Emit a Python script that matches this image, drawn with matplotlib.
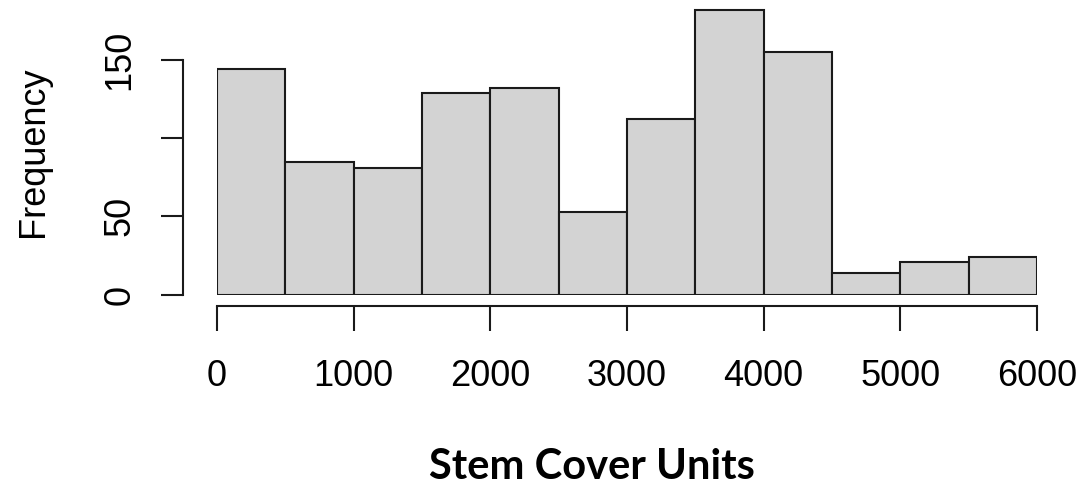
import matplotlib
matplotlib.use("Agg")
import matplotlib.pyplot as plt
import numpy as np

# histogram counts for stem cover, bins of 500 units
bin_edges = [0, 500, 1000, 1500, 2000, 2500, 3000, 3500, 4000, 4500, 5000, 5500, 6000]
counts = [144, 85, 81, 129, 132, 53, 112, 182, 155, 14, 21, 24]
x_ticks = [0, 1000, 2000, 3000, 4000, 5000, 6000]
y_ticks = [0, 50, 100, 150]
y_tick_labels = ["0", "50", "", "150"]

plt.rcParams["font.family"] = ["Liberation Sans", "DejaVu Sans"]

W, H = 1088, 488
fig = plt.figure(figsize=(W / 100, H / 100), dpi=100)
ymax = 186
px_per_unit = 1.566
ax = fig.add_axes([217 / W, (H - 294.7) / H, 820 / W, ymax * px_per_unit / H])

edges = np.array(bin_edges)
ax.bar(edges[:-1], counts, width=np.diff(edges), align="edge",
       color="#d3d3d3", edgecolor="#1a1a1a", linewidth=1.5)

ax.set_xlim(0, 6000)
ax.set_ylim(0, ymax)

for s in ["top", "right"]:
    ax.spines[s].set_visible(False)
ax.spines["bottom"].set_position(("outward", 8))
ax.spines["left"].set_position(("outward", 24.5))
ax.spines["bottom"].set_bounds(0, 6000)
ax.spines["left"].set_bounds(0, 150)
for s in ["bottom", "left"]:
    ax.spines[s].set_linewidth(1.5)
    ax.spines[s].set_color("#1a1a1a")

ax.set_xticks(x_ticks)
ax.set_xticklabels([str(v) for v in x_ticks])
ax.set_yticks(y_ticks)
ax.set_yticklabels(y_tick_labels, rotation=90, va="center")
ax.tick_params(axis="x", length=18, width=1.5, pad=20, labelsize=26, color="#1a1a1a")
ax.tick_params(axis="y", length=16, width=1.5, pad=17, labelsize=26, color="#1a1a1a")

fig.text(33 / W, 1 - 152 / H, "Frequency", rotation=90, fontsize=26,
         ha="center", va="center")
fig.text(592 / W, 1 - 467 / H, "Stem Cover Units", fontsize=30,
         fontweight="bold", family=["Lato", "DejaVu Sans"], ha="center", va="center")

fig.savefig("out.png", dpi=100)
